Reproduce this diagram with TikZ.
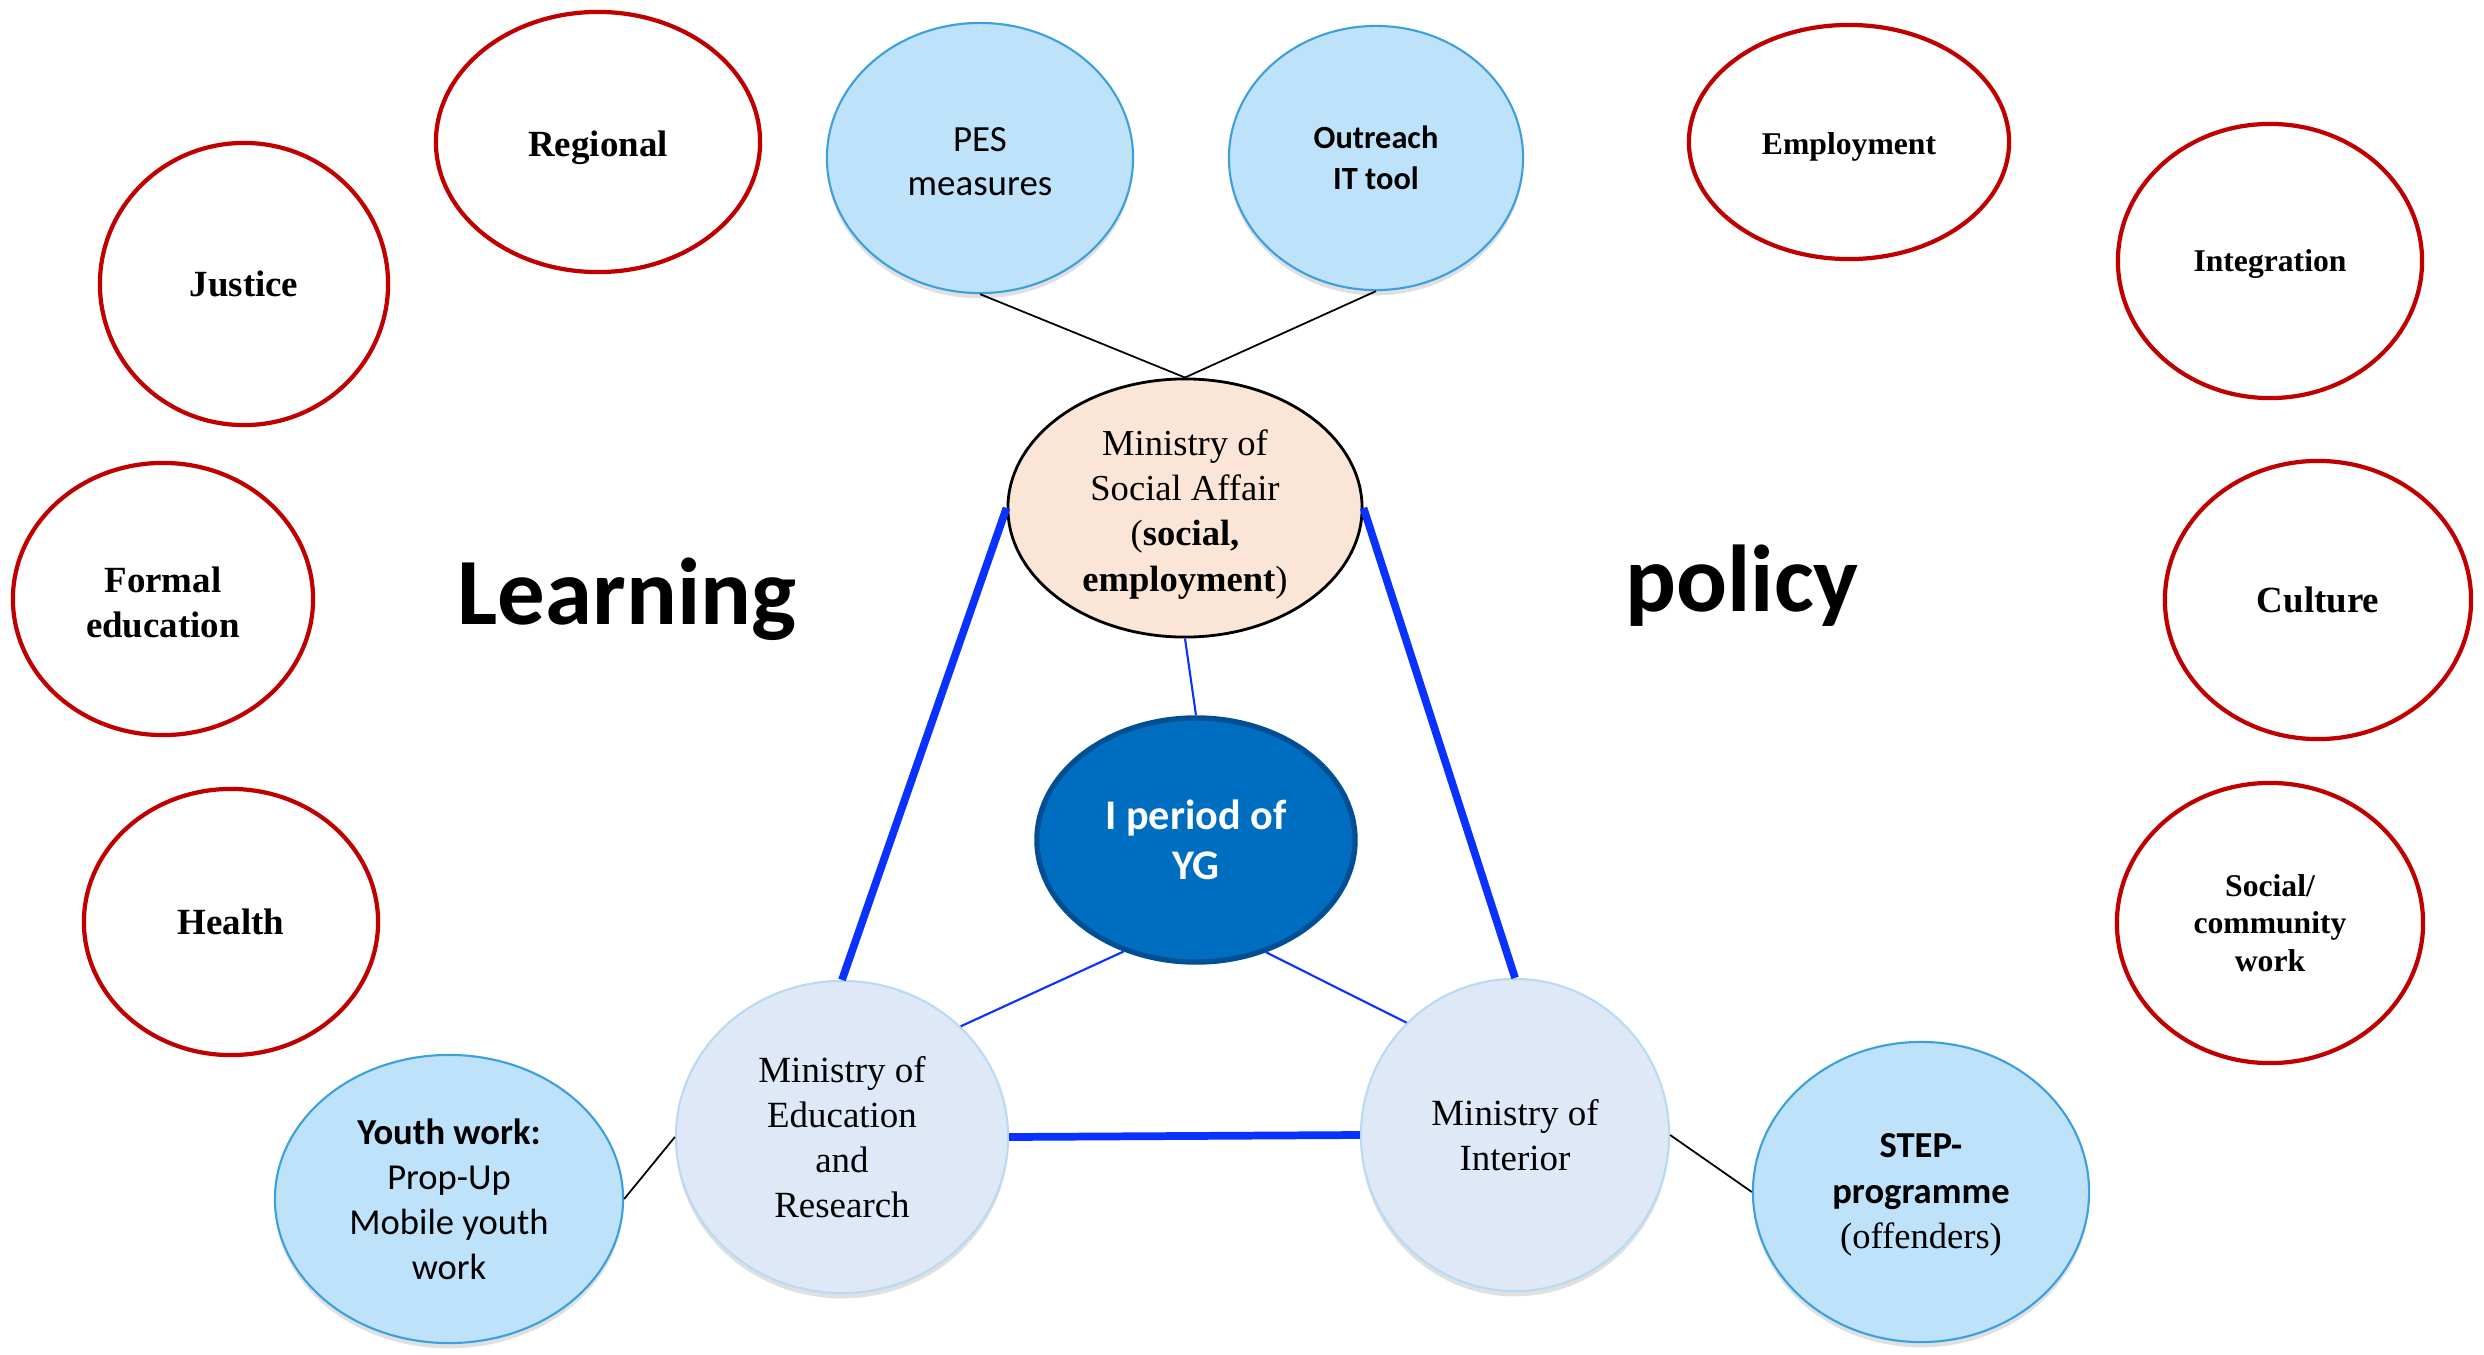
\documentclass[tikz,border=0pt]{standalone}
\usepackage{fontspec}
\setmainfont{Liberation Serif}
\newfontfamily\calibri{Carlito}
\usetikzlibrary{shapes.geometric,shadows}

\definecolor{ringred}{RGB}{192,0,0}
\definecolor{skyfill}{RGB}{190,226,250}
\definecolor{skyline}{RGB}{60,160,220}
\definecolor{minfill}{RGB}{223,232,247}
\definecolor{minline}{RGB}{185,218,242}
\definecolor{peach}{RGB}{251,229,214}
\definecolor{ygfill}{RGB}{0,110,192}
\definecolor{ygline}{RGB}{0,78,148}
\definecolor{linkblue}{RGB}{10,50,255}

\newcommand{\lift}[1]{\rule{0pt}{#1}}

\begin{document}
\begin{tikzpicture}[x=0.01cm,y=-0.01cm,
  base/.style={ellipse, inner sep=0pt, align=center},
  softshadow/.style={drop shadow={shadow xshift=0pt, shadow yshift=-1.5pt, opacity=0.12, fill=black}},
  policyring/.style={base, draw=ringred, line width=1.2pt, fill=white, font=\bfseries\fontsize{10.5}{12.8}\selectfont},
  policyringsmall/.style={policyring, font=\bfseries\fontsize{9}{10.6}\selectfont},
  measure/.style={base, draw=skyline, line width=0.6pt, fill=skyfill, softshadow, font=\calibri\fontsize{10.5}{12.6}\selectfont},
  ministry/.style={base, draw=minline, line width=0.6pt, fill=minfill, softshadow, font=\fontsize{10.5}{12.8}\selectfont},
  thinlink/.style={draw=black, line width=0.5pt},
  bluelink/.style={draw=linkblue, line width=0.6pt},
  thicklink/.style={draw=linkblue, line width=2.2pt},
  bigword/.style={font=\calibri\bfseries\fontsize{27}{32}\selectfont, anchor=base, inner sep=0pt}
]
\useasboundingbox[fill=white] (0,0) rectangle (2484,1354);

% policy rings
\node[policyring, minimum width=3.24cm, minimum height=2.60cm] (regional) at (598,142) {\lift{10.5pt}Regional};
\node[policyring, minimum width=2.88cm, minimum height=2.82cm] (justice) at (244,284) {Justice};
\node[policyring, minimum width=3.00cm, minimum height=2.72cm] (formal) at (163,599) {\lift{9pt}Formal\\education};
\node[policyring, minimum width=2.94cm, minimum height=2.66cm] (health) at (231,922) {Health};
\node[policyringsmall, minimum width=3.20cm, minimum height=2.34cm] (employment) at (1849,142) {\lift{9pt}Employment};
\node[policyringsmall, minimum width=3.04cm, minimum height=2.74cm] (integration) at (2270,261) {\lift{8pt}Integration};
\node[policyring, minimum width=3.06cm, minimum height=2.78cm] (culture) at (2318,600) {Culture};
\node[policyringsmall, minimum width=3.06cm, minimum height=2.80cm] (socialwork) at (2270,923) {Social/\\community\\work};

% big words
\node[bigword] (learning) at (627,624) {Learning};
\node[bigword] (policy) at (1742,611) {policy};

% measures
\node[measure, minimum width=3.06cm, minimum height=2.70cm] (pes) at (980,158) {\lift{8.8pt}PES\\measures};
\node[measure, minimum width=2.94cm, minimum height=2.64cm, font=\calibri\bfseries\fontsize{9.2}{11.6}\selectfont] (outreach) at (1376,158) {Outreach\\IT tool};
\node[measure, minimum width=3.48cm, minimum height=2.88cm, font=\calibri\fontsize{10.4}{12.8}\selectfont] (youth) at (449,1199) {\textbf{Youth work:}\\Prop-Up\\Mobile youth\\work};
\node[measure, minimum width=3.36cm, minimum height=3.00cm, font=\fontsize{10.4}{12.9}\selectfont] (stepprog) at (1921,1192) {\lift{8.5pt}{\calibri\bfseries STEP-}\\{\calibri\bfseries programme}\\(offenders)};

% ministries
\node[base, draw=black, line width=0.8pt, fill=peach, font=\fontsize{10.4}{12.9}\selectfont, minimum width=3.54cm, minimum height=2.58cm] (soc) at (1185,508) {\lift{10.8pt}Ministry of\\Social Affair\\({\bfseries social,}\\{\bfseries employment})};
\node[ministry, minimum width=3.32cm, minimum height=3.12cm] (edu) at (842,1137) {Ministry of\\Education\\and\\Research};
\node[ministry, minimum width=3.08cm, minimum height=3.12cm] (int) at (1515,1135) {Ministry of\\Interior};
\node[base, draw=ygline, line width=1.5pt, fill=ygfill, text=white, font=\calibri\bfseries\fontsize{12}{14.2}\selectfont, minimum width=3.18cm, minimum height=2.44cm] (yg) at (1196,840) {I period of\\YG};

% connectors
\draw[thinlink] (pes.south) -- (soc.north);
\draw[thinlink] (outreach.south) -- (soc.north);
\draw[thinlink] (youth.east) -- (edu.west);
\draw[thinlink] (int.east) -- (stepprog.west);
\draw[bluelink] (soc.south) -- (yg.north);
\draw[bluelink] (yg.237) -- (edu.43);
\draw[bluelink] (yg.302) -- (int.134);
\draw[thicklink] (soc.west) -- (edu.north);
\draw[thicklink] (soc.east) -- (int.north);
\draw[thicklink] (edu.east) -- (int.west);
\end{tikzpicture}
\end{document}
